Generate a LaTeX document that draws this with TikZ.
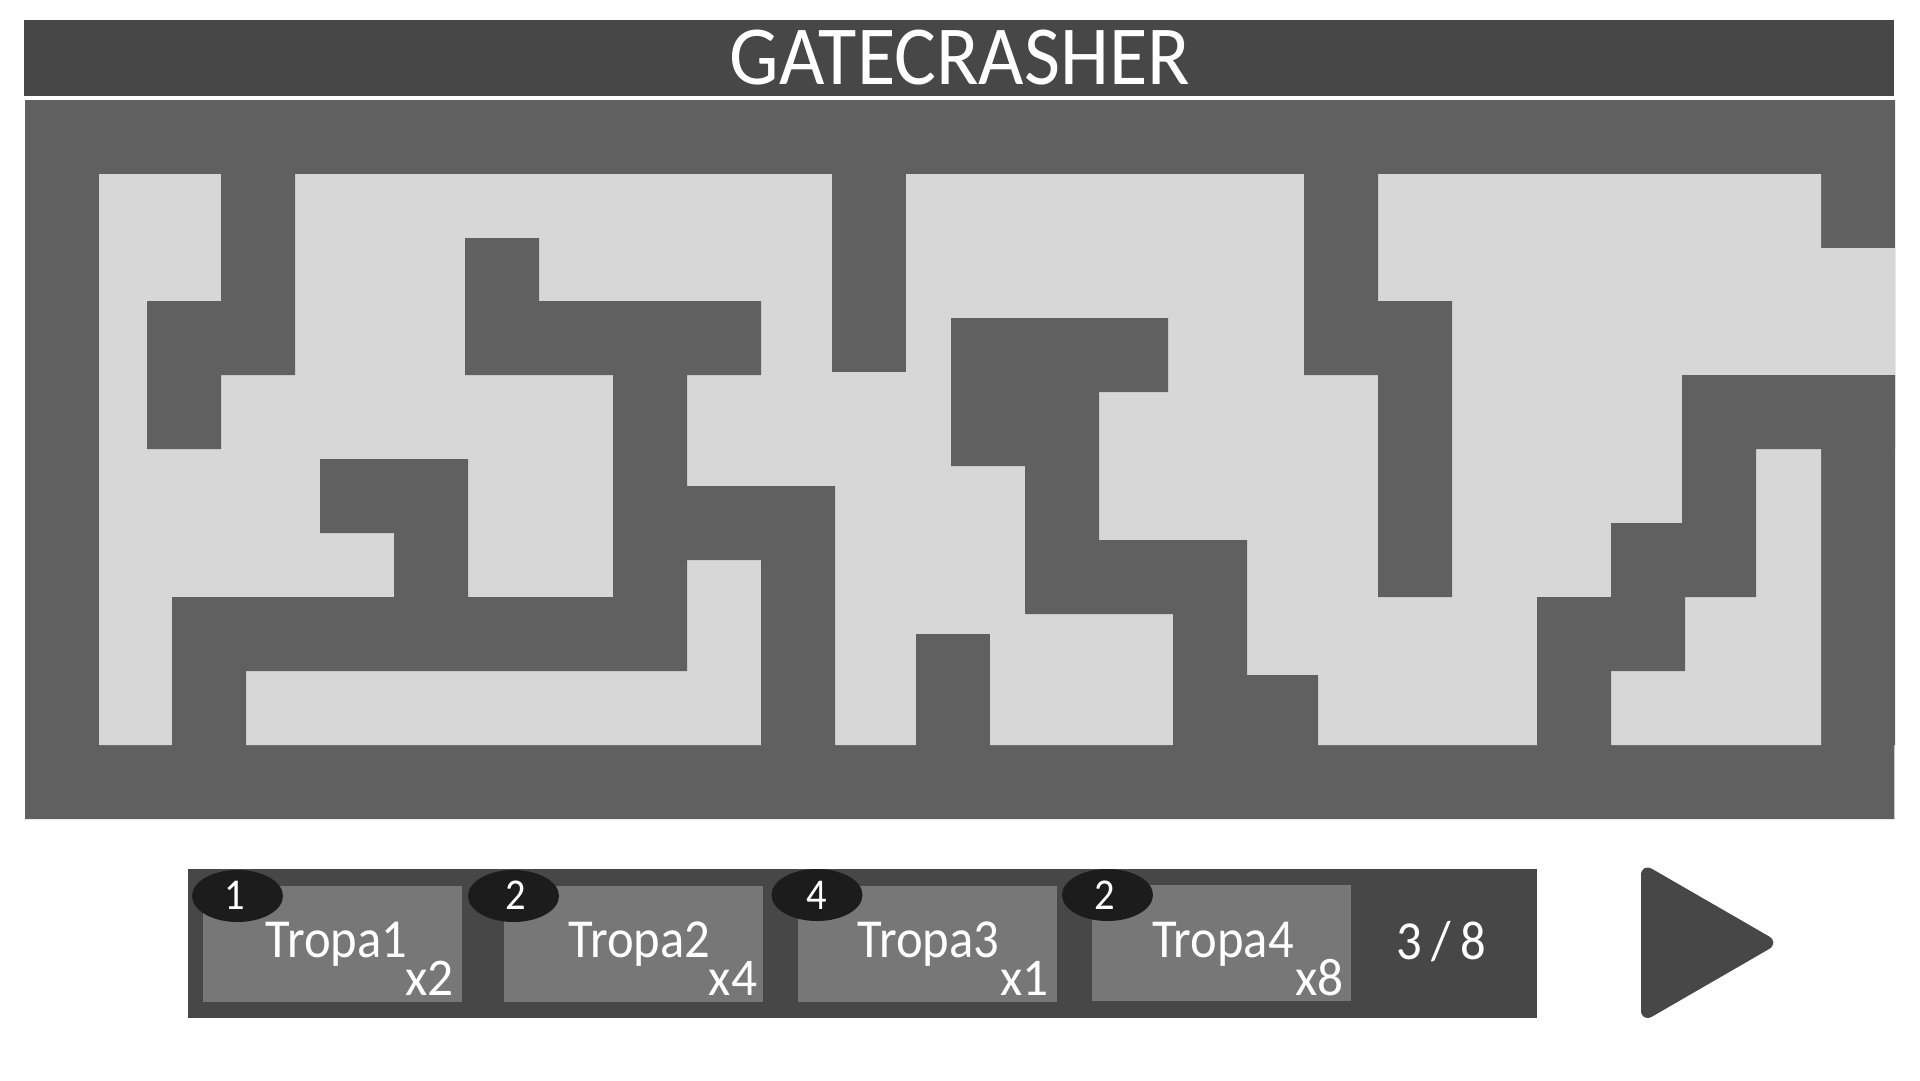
\documentclass[tikz,border=0pt]{standalone}
\usepackage{fontspec}
\setmainfont{Carlito}
\newfontfamily\narrowfont[FakeStretch=0.92]{Carlito}
\newfontfamily\midfont[FakeStretch=0.97]{Carlito}
\newfontfamily\titlefont[FakeStretch=0.934]{Carlito}
\usetikzlibrary{shapes.geometric}
\definecolor{headgrey}{HTML}{474747}
\definecolor{wallgrey}{HTML}{606060}
\definecolor{floorgrey}{HTML}{D7D7D7}
\definecolor{cardgrey}{HTML}{777777}
\definecolor{badgegrey}{HTML}{1C1C1C}
\tikzset{
  wall/.style={fill=wallgrey},
  floorarea/.style={fill=floorgrey},
  card/.style={fill=cardgrey,inner sep=0pt,minimum width=259pt,minimum height=116pt},
  badge/.style={ellipse,fill=badgegrey,inner sep=0pt,minimum width=91pt,minimum height=52pt},
  txt/.style={text=white,inner sep=0pt,anchor=base},
  big/.style={txt,font=\narrowfont\fontsize{55}{60}\selectfont},
  mid/.style={txt,font=\midfont\fontsize{53}{60}\selectfont},
  num/.style={txt,font=\narrowfont\fontsize{44}{50}\selectfont},
}
\begin{document}
\begin{tikzpicture}[x=1pt,y=-1pt]
\useasboundingbox (0,0) rectangle (1920,1080);
% header
\fill[headgrey] (24,20) rectangle (1894,96);
\node[txt,font=\titlefont\fontsize{84}{90}\selectfont] (title) at (960,84) {GATECRASHER};
% board
\fill[floorgrey] (1894,745) rectangle (1895,819);
\fill[wall] (25,100) -- (1895,100) -- (1895,745) -- (1894,745) -- (1894,819) -- (25,819) -- cycle;
\fill[floorarea] (99,174) -- (1821,174) -- (1821,248) -- (1895,248) -- (1895,375) -- (1821,375) -- (1821,745) -- (99,745) -- cycle;
% walls (each runs a little into the border so no seam shows)
\fill[wall] (221,170) -- (295,170) -- (295,375) -- (221,375) -- (221,449) -- (147,449) -- (147,301) -- (221,301) -- cycle;
\fill[wall] (465,238) -- (539,238) -- (539,301) -- (761,301) -- (761,375) -- (687,375) -- (687,486) -- (835,486) -- (835,750) -- (761,750) -- (761,560) -- (687,560) -- (687,671) -- (246,671) -- (246,750) -- (172,750) -- (172,597) -- (394,597) -- (394,533) -- (320,533) -- (320,459) -- (468,459) -- (468,597) -- (613,597) -- (613,375) -- (465,375) -- cycle;
\fill[wall] (832,170) rectangle (906,372);
\fill[wall] (951,318) -- (1168,318) -- (1168,392) -- (1099,392) -- (1099,540) -- (1247,540) -- (1247,675) -- (1318,675) -- (1318,750) -- (1173,750) -- (1173,614) -- (1025,614) -- (1025,466) -- (951,466) -- cycle;
\fill[wall] (916,634) rectangle (990,750);
\fill[wall] (1304,170) -- (1378,170) -- (1378,301) -- (1452,301) -- (1452,597) -- (1378,597) -- (1378,375) -- (1304,375) -- cycle;
\fill[wall] (1682,375) -- (1895,375) -- (1895,449) -- (1756,449) -- (1756,597) -- (1685,597) -- (1685,671) -- (1611,671) -- (1611,750) -- (1537,750) -- (1537,597) -- (1611,597) -- (1611,523) -- (1682,523) -- cycle;
% bottom panel
\fill[headgrey] (188,869) rectangle (1537,1018);
\node[card] (c1) at (332.5,944) {};
\node[card] (c2) at (633.5,944) {};
\node[card] (c3) at (927.5,944) {};
\node[card] (c4) at (1221.5,943) {};
\node[badge] (b1) at (237.5,896) {};
\node[badge] (b2) at (513.5,896) {};
\node[badge] (b3) at (817,895) {};
\node[badge] (b4) at (1107.5,895) {};
\node[num] (n1) at (235,909) {1};
\node[num] (n2) at (515.7,909.5) {2};
\node[num] (n3) at (817,909) {4};
\node[num] (n4) at (1104.7,909) {2};
\node[big] (t1) at (336.5,957) {Tropa1};
\node[big] (t2) at (639.5,957) {Tropa2};
\node[big] (t3) at (928.5,957) {Tropa3};
\node[big] (t4) at (1223,957) {Tropa4};
\node[mid] (x1) at (429.5,995.7) {x2};
\node[mid] (x2) at (733,995.7) {x4};
\node[mid] (x3) at (1024.5,995.7) {x1};
\node[mid] (x4) at (1319.5,995.7) {x8};
\node[big] (count) at (1441,959) {\spaceskip=0.17em 3 / 8};
% play button
\fill[headgrey,rounded corners=13pt] (1641,942.7) -- (1641,862.5) -- (1780,942.7) -- (1641,1023) -- cycle;
\end{tikzpicture}
\end{document}
